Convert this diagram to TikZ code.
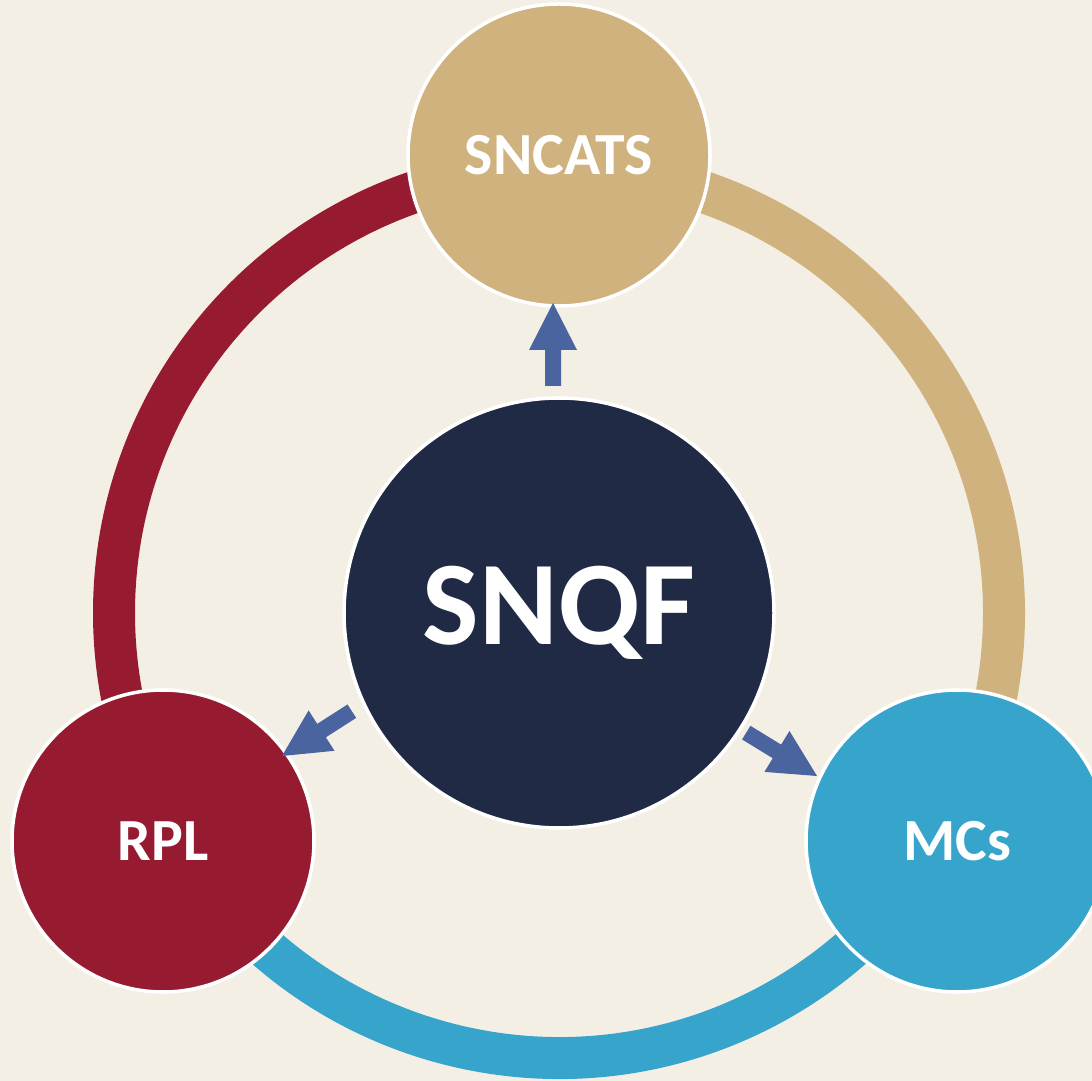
\documentclass[tikz,border=0pt]{standalone}
\usepackage{fontspec}
\setmainfont{Carlito}
\definecolor{bgcream}{HTML}{F3EFE5}
\definecolor{navy}{HTML}{212A45}
\definecolor{tan}{HTML}{CFB27E}
\definecolor{wine}{HTML}{961B30}
\definecolor{teal}{HTML}{37A5CB}
\definecolor{arrowblue}{HTML}{4A64A0}
\tikzset{
  ball/.style={circle, draw=white, line width=1pt, text=white, font=\bfseries\fontsize{17}{20}\selectfont, minimum size=3.02cm, inner sep=0pt},
  ring/.style={line width=0.42cm}
}
\begin{document}
\begin{tikzpicture}
            \fill[bgcream] (0,0) rectangle (10.92,-10.81);
            \useasboundingbox (0,0) rectangle (10.92,-10.81);
            \clip (0,0) rectangle (10.92,-10.81);
            \coordinate (hub) at (5.59,-6.13);
            % ring segments
            \draw[ring, wine] ([shift={(90:4.45)}]hub) arc[start angle=90, end angle=210, radius=4.45];
            \draw[ring, tan] ([shift={(90:4.45)}]hub) arc[start angle=90, end angle=-30, radius=4.45];
            \draw[ring, teal] ([shift={(210:4.45)}]hub) arc[start angle=210, end angle=330, radius=4.45];
            % circles
            \node[ball, fill=navy, minimum size=4.3cm, font=\bfseries\fontsize{34}{40}\selectfont] (snqf) at (hub) {SNQF};
            \node[ball, fill=tan] (sncats) at (5.59,-1.55) {SNCATS};
            \node[ball, fill=wine] (rpl) at (1.63,-8.41) {RPL};
            \node[ball, fill=teal] (mcs) at (9.57,-8.41) {MCs};
            % block arrows
            \foreach \x/\y/\a in {5.53/-3.03/90, 2.82/-7.56/212.7, 8.17/-7.76/-31.5}{
                \fill[arrowblue, shift={(\x,\y)}, rotate=\a] (0,0) -- (-0.47,0.24) -- (-0.47,0.08) -- (-0.83,0.08) -- (-0.83,-0.08) -- (-0.47,-0.08) -- (-0.47,-0.24) -- cycle;
            }
\end{tikzpicture}
\end{document}
